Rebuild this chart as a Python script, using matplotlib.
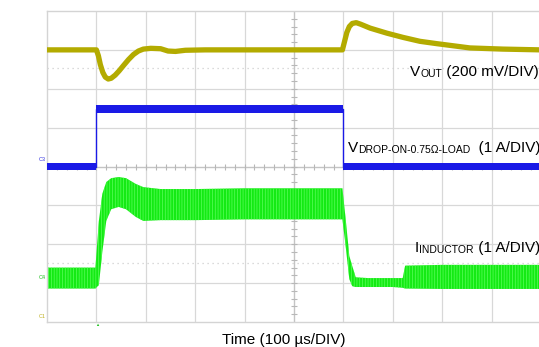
import numpy as np
import matplotlib
matplotlib.use('Agg')
from matplotlib import pyplot as plt
from matplotlib.transforms import IdentityTransform

plt.rcParams['font.family'] = ['Liberation Sans', 'DejaVu Sans']
plt.rcParams['hatch.linewidth'] = 0.5

W, H = 539, 347

# scope traces, in divisions (x: 0..10, y: 0..8)
vout_t = [0, 1.0, 1.04, 1.08, 1.13, 1.18, 1.24, 1.3, 1.38, 1.46, 1.55, 1.65, 1.75, 1.85, 1.95,
          2.1, 2.3, 2.45, 2.6, 2.8, 3.2, 4, 5,
          5.98, 6.02, 6.07, 6.12, 6.18, 6.26, 6.35, 6.54, 6.88, 7.21, 7.55, 7.89, 8.56, 9.23, 10]
vout_y = [7.0, 7.0, 6.85, 6.62, 6.42, 6.3, 6.25, 6.27, 6.35, 6.46, 6.6, 6.75, 6.88, 6.97, 7.02,
          7.04, 7.03, 6.97, 6.96, 6.99, 7.0, 7.0, 7.0,
          7.0, 7.2, 7.45, 7.6, 7.68, 7.7, 7.66, 7.56, 7.43, 7.32, 7.22, 7.16, 7.05, 7.02, 7.0]

drop_t = [0, 1.0, 1.0, 6.0, 6.0, 10]
drop_y = [4.0, 4.0, 5.48, 5.48, 4.0, 4.0]

ind_t = [0, 0.98, 1.05, 1.12, 1.2, 1.3, 1.45, 1.6, 1.8, 1.95, 2.3, 3.0, 4.0, 5.0,
         5.98, 6.05, 6.12, 6.18, 6.25, 6.5, 7.0, 7.2, 7.25, 8.0, 9.0, 10]
ind_hi = [1.40, 1.40, 2.6, 3.3, 3.6, 3.7, 3.73, 3.7, 3.55, 3.47, 3.42, 3.42, 3.44, 3.44,
          3.44, 2.6, 1.7, 1.44, 1.15, 1.13, 1.13, 1.13, 1.45, 1.47, 1.47, 1.47]
ind_lo = [0.86, 0.86, 0.95, 1.8, 2.6, 2.9, 2.96, 2.9, 2.7, 2.6, 2.62, 2.62, 2.64, 2.64,
          2.64, 1.9, 1.1, 0.92, 0.9, 0.9, 0.9, 0.88, 0.86, 0.85, 0.85, 0.85]

fig = plt.figure(figsize=(W/100, H/100), dpi=100)
ax = fig.add_axes([47/W, 1-322/H, 494/W, 311/H])
ax.set_xlim(0, 10)
ax.set_ylim(0, 8)
ax.set_xticks([])
ax.set_yticks([])
for s in ax.spines.values():
    s.set_color('#d4d4d4')
    s.set_linewidth(1)

grid_c = '#d8d8d8'
for gx in range(1, 10):
    ax.axvline(gx, color=grid_c, lw=0.9, zorder=0)
for gy in range(1, 8):
    ax.axhline(gy, color=grid_c, lw=0.9, zorder=0)
# center cross with minor ticks
ax.axvline(5, color='#c4c4c4', lw=0.9, zorder=0)
ax.axhline(4, color='#c4c4c4', lw=0.9, zorder=0)
ticks_x = np.arange(0.2, 10, 0.2)
ticks_y = np.arange(0.2, 8, 0.2)
ax.plot([5]*len(ticks_y), ticks_y, ls='none', marker='_', ms=4, color='#b8b8b8', mew=0.8, zorder=0)
ax.plot(ticks_x, [4]*len(ticks_x), ls='none', marker='|', ms=4, color='#b8b8b8', mew=0.8, zorder=0)
for dy in [6.53, 1.52]:
    ax.axhline(dy, color='#cfcfcf', lw=0.9, ls=(0, (1, 3)), zorder=0)

# traces
ax.plot(vout_t, vout_y, color='#b3ab00', lw=3.8, solid_capstyle='butt',
        solid_joinstyle='round', zorder=3)
ax.plot(drop_t, drop_y, color='#1a1ae6', lw=1.0, zorder=3)
ax.fill_between([0, 1.0], [3.9, 3.9], [4.1, 4.1], color='#1a1ae6', lw=0, zorder=3)
ax.fill_between([1.0, 6.0], [5.38, 5.38], [5.58, 5.58], color='#1a1ae6', lw=0, zorder=3)
ax.fill_between([6.0, 10], [3.9, 3.9], [4.1, 4.1], color='#1a1ae6', lw=0, zorder=3)
ax.fill_between(ind_t, ind_lo, ind_hi, facecolor='#14ea14', edgecolor='#5cff5c',
                hatch='||||||', lw=0, zorder=2)

def sub_label(px, py, main, sub, rest, fs=11, sfs=7.5):
    r = fig.canvas.get_renderer()
    t = fig.text(px, H-py, main, fontsize=fs, va='baseline', transform=IdentityTransform())
    x1 = t.get_window_extent(r).x1
    t2 = fig.text(x1, H-py-1, sub, fontsize=sfs, va='baseline', transform=IdentityTransform())
    x2 = t2.get_window_extent(r).x1
    if rest:
        fig.text(x2, H-py, rest, fontsize=fs, va='baseline', transform=IdentityTransform())

sub_label(410, 76, 'V', 'OUT', ' (200 mV/DIV)')
sub_label(348, 152, 'V', 'DROP-ON-0.75\u03a9-LOAD', '  (1 A/DIV)')
sub_label(415, 252, 'I', 'INDUCTOR', ' (1 A/DIV)')
fig.text(284/W, 1-344/H, 'Time (100 \u00b5s/DIV)', fontsize=11, ha='center', va='baseline')

# channel markers
fig.text(39/W, 1-161/H, 'C3', fontsize=4, color='#3030e0')
fig.text(39/W, 1-279/H, 'C4', fontsize=4, color='#20c020')
fig.text(39/W, 1-318/H, 'C1', fontsize=4, color='#c0b020')
fig.text(97/W, 1-326/H, '\u25b2', fontsize=3, color='#20c020', ha='center')

fig.savefig('out.png', dpi=100)
